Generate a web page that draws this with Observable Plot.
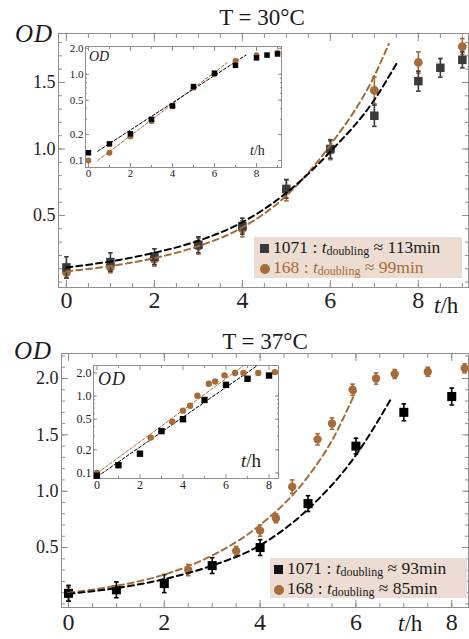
<!DOCTYPE html>
<html><head><meta charset="utf-8">
<script src="https://cdn.jsdelivr.net/npm/d3@7"></script>
<script src="https://cdn.jsdelivr.net/npm/@observablehq/plot@0.6"></script>
<style>
body{margin:0;background:#fff;}
#wrap{position:relative;width:469px;height:639px;overflow:hidden;font-family:"Liberation Serif",serif;color:#1a1a1a;}
#wrap svg, #wrap svg text{font-family:"Liberation Serif",serif;}
.abs{position:absolute;white-space:nowrap;line-height:1;}
.title{font-size:23px;transform:translateX(-50%);}
.od{font-style:italic;font-size:25px;letter-spacing:1px;}
.th{font-size:23px;}
.legend{background:#ecdcd1;font-size:17.5px;box-sizing:border-box;padding-left:6px;}
.legend .row{height:20px;line-height:20px;}
.sub{font-size:12px;position:relative;top:2px;}
.sq{display:inline-block;width:9px;height:9px;background:#3a3a3a;margin-right:4px;vertical-align:0px;}
.ci{display:inline-block;width:10px;height:10px;border-radius:50%;background:#a56c3a;margin-right:3px;vertical-align:-1px;}
</style></head>
<body>
<div id="wrap">
  <div id="p1" class="abs" style="left:0;top:0"></div>
  <div id="p2" class="abs" style="left:0;top:315px"></div>
  <div id="i1" class="abs" style="left:62px;top:38px"></div>
  <div id="i2" class="abs" style="left:68px;top:358px"></div>

  <div class="abs title" style="left:262px;top:6px">T = 30°C</div>
  <div class="abs title" style="left:265px;top:330px">T = 37°C</div>
  <div class="abs od" style="left:15px;top:21px">OD</div>
  <div class="abs od" style="left:14px;top:338px">OD</div>
  <div class="abs th" style="left:434px;top:294px"><i>t</i>/h</div>
  <div class="abs th" style="left:398px;top:612px"><i>t</i>/h</div>

  <div class="abs" style="left:89px;top:50px;font-size:14px;font-style:italic">OD</div>
  <div class="abs" style="left:250px;top:144px;font-size:14px"><i>t</i>/h</div>
  <div class="abs" style="left:98px;top:370px;font-size:18px;font-style:italic;letter-spacing:1px">OD</div>
  <div class="abs" style="left:241px;top:451px;font-size:19px"><i>t</i>/h</div>

  <div class="abs legend" style="left:254px;top:237px;width:208px;height:41px;padding-top:0px">
    <div class="row" style="color:#1a1a1a"><span class="sq"></span>1071 : <i>t</i><span class="sub">doubling</span> ≈ 113min</div>
    <div class="row" style="color:#a56c3a"><span class="ci"></span>168 : <i>t</i><span class="sub">doubling</span> ≈ 99min</div>
  </div>
  <div class="abs legend" style="left:270px;top:558px;width:197px;height:40px;padding-top:0px;padding-left:4px">
    <div class="row" style="color:#1a1a1a"><span class="sq" style="background:#111"></span>1071 : <i>t</i><span class="sub">doubling</span> ≈ 93min</div>
    <div class="row" style="color:#1a1a1a"><span class="ci"></span>168 : <i>t</i><span class="sub">doubling</span> ≈ 85min</div>
  </div>
</div>
<script>
// ---------- data: T = 30°C ----------
const tTopBlack   = [0, 1, 2, 3, 4, 5, 6, 7, 8, 8.5, 9];
const odTopBlack  = [0.11, 0.15, 0.19, 0.28, 0.42, 0.70, 1.00, 1.25, 1.51, 1.61, 1.67];
const errTopBlack = [0.08, 0.07, 0.06, 0.06, 0.06, 0.07, 0.07, 0.08, 0.075, 0.07, 0.06];
const tTopBrown   = [0, 1, 2, 3, 4, 5, 6, 7, 8, 9];
const odTopBrown  = [0.07, 0.11, 0.17, 0.27, 0.40, 0.69, 0.99, 1.44, 1.65, 1.77];
const errTopBrown = [0.04, 0.04, 0.05, 0.06, 0.06, 0.08, 0.07, 0.10, 0.08, 0.06];
const tFitTopBlack  = [0, 1, 2, 3, 4, 5, 6, 7, 7.5];
const odFitTopBlack = [0.11, 0.155, 0.22, 0.31, 0.45, 0.67, 0.98, 1.37, 1.64];
const tFitTopBrown  = [0, 1, 2, 3, 4, 5, 6, 7, 7.33];
const odFitTopBrown = [0.08, 0.12, 0.18, 0.27, 0.41, 0.65, 1.03, 1.55, 1.79];
// inset (log scale)
const odInsetTopBlack = [0.123, 0.156, 0.204, 0.30, 0.43, 0.72, 1.03, 1.27, 1.55, 1.67, 1.72];
const odInsetTopBrown = [0.10, 0.123, 0.19, 0.286, 0.424, 0.70, 1.0, 1.44, 1.67, 1.78];
const tLineTopBlack  = [0.44, 7.5];
const odLineTopBlack = [0.128, 1.67];
const tLineTopBrown  = [0.44, 6.6];
const odLineTopBrown = [0.10, 1.36];

// ---------- data: T = 37°C ----------
const tBotBlack   = [0, 1, 2, 3, 4, 5, 6, 7, 8];
const odBotBlack  = [0.094, 0.125, 0.18, 0.34, 0.50, 0.89, 1.40, 1.70, 1.84];
const errBotBlack = [0.07, 0.07, 0.08, 0.07, 0.07, 0.07, 0.07, 0.075, 0.075];
const tBotBrown   = [0, 2.5, 3.5, 4, 4.33, 4.67, 5.2, 5.5, 5.93, 6.42, 6.81, 7.5, 8.27];
const odBotBrown  = [0.09, 0.30, 0.47, 0.65, 0.76, 1.04, 1.46, 1.60, 1.90, 2.00, 2.04, 2.06, 2.09];
const errBotBrown = [0.06, 0.05, 0.04, 0.05, 0.04, 0.06, 0.05, 0.05, 0.05, 0.05, 0.04, 0.04, 0.04];
const tFitBotBlack  = [0, 1, 2, 3, 4, 5, 6, 6.72];
const odFitBotBlack = [0.09, 0.14, 0.22, 0.34, 0.52, 0.84, 1.32, 1.81];
const tFitBotBrown  = [0, 1, 2, 3, 4, 5, 5.5, 6];
const odFitBotBrown = [0.10, 0.16, 0.26, 0.43, 0.70, 1.13, 1.45, 1.89];
const odInsetBotBlack = [0.092, 0.126, 0.178, 0.35, 0.50, 0.89, 1.40, 1.68, 1.85];
const odInsetBotBrown = [0.10, 0.288, 0.465, 0.646, 0.75, 1.01, 1.45, 1.55, 1.86, 2.0, 2.0, 2.0, 2.05];
const tLineBotBlack  = [0.03, 7.46];
const odLineBotBlack = [0.09, 2.5];
const tLineBotBrown  = [0.03, 6.83];
const odLineBotBrown = [0.10, 2.5];

// ---------- tick labels ----------
const xTickLabels = [0, 2, 4, 6, 8];
const yTickLabelsTop = [0.5, 1.0, 1.5];
const yTickLabelsBot = [0.5, 1.0, 1.5, 2.0];
const insetYTickLabels = [0.1, 0.2, 0.5, 1, 2];

const BROWN = "#a56c3a";
const GRAY = "#8e8e8e";
const FONT = '"Liberation Serif", serif';

const rows = (t, v, e) => t.map((x, i) => ({t: x, v: v[i], e: e ? e[i] : 0}));
const cap = {draw(ctx, size) { const w = Math.sqrt(size / Math.PI); ctx.moveTo(-w, 0); ctx.lineTo(w, 0); }};

function frameTicks(xMajor, xMinor, yMajor, yMinor, big, small) {
  const m = [];
  for (const a of ["bottom", "top"]) {
    m.push(Plot.axisX({anchor: a, ticks: xMajor, tickSize: -big, fill: "none", stroke: GRAY, label: null}));
    m.push(Plot.axisX({anchor: a, ticks: xMinor, tickSize: -small, fill: "none", stroke: GRAY, label: null}));
  }
  for (const a of ["left", "right"]) {
    m.push(Plot.axisY({anchor: a, ticks: yMajor, tickSize: -big, fill: "none", stroke: GRAY, label: null}));
    m.push(Plot.axisY({anchor: a, ticks: yMinor, tickSize: -small, fill: "none", stroke: GRAY, label: null}));
  }
  return m;
}

function mainPanel(o) {
  const black = rows(o.tB, o.vB, o.eB), brown = rows(o.tR, o.vR, o.eR);
  return Plot.plot({
    width: 469, height: o.height,
    marginTop: o.mt, marginBottom: o.mb, marginLeft: o.ml, marginRight: 1,
    style: {fontFamily: FONT, background: "transparent", color: "#222", overflow: "visible"},
    x: {domain: o.xd, label: null},
    y: {domain: o.yd, label: null},
    marks: [
      ...frameTicks(xTickLabels, o.xMinor, o.yLabels, o.yMinor, 7, 4),
      Plot.axisX({anchor: "bottom", ticks: xTickLabels, tickSize: 0, tickPadding: o.xpad, fontSize: 24, fontFamily: FONT, label: null}),
      Plot.axisY({anchor: "left", ticks: o.yLabels, tickSize: 0, tickPadding: 3, fontSize: 18, fontFamily: FONT, tickFormat: d3.format(".1f"), label: null}),
      Plot.frame({stroke: GRAY}),
      Plot.ruleX(brown, {x: "t", y1: d => d.v - d.e, y2: d => d.v + d.e, stroke: BROWN, strokeWidth: 1.6}),
      Plot.dot(brown, {x: "t", y: d => d.v - d.e, symbol: cap, r: 2.3, stroke: BROWN, strokeWidth: 1.6}),
      Plot.dot(brown, {x: "t", y: d => d.v + d.e, symbol: cap, r: 2.3, stroke: BROWN, strokeWidth: 1.6}),
      Plot.dot(brown, {x: "t", y: "v", symbol: "circle", r: o.rc, fill: BROWN, stroke: "none"}),
      Plot.ruleX(black, {x: "t", y1: d => d.v - d.e, y2: d => d.v + d.e, stroke: o.blackColor, strokeWidth: 1.6}),
      Plot.dot(black, {x: "t", y: d => d.v - d.e, symbol: cap, r: 2.3, stroke: o.blackColor, strokeWidth: 1.6}),
      Plot.dot(black, {x: "t", y: d => d.v + d.e, symbol: cap, r: 2.3, stroke: o.blackColor, strokeWidth: 1.6}),
      Plot.dot(black, {x: "t", y: "v", symbol: "square", r: o.rs, fill: o.blackColor, stroke: "none"}),
      Plot.line(rows(o.tFR, o.vFR), {x: "t", y: "v", stroke: BROWN, strokeWidth: 2, strokeDasharray: "6,4", curve: "monotone-x"}),
      Plot.line(rows(o.tFB, o.vFB), {x: "t", y: "v", stroke: "#000", strokeWidth: 2, strokeDasharray: "6,4", curve: "monotone-x"})
    ]
  });
}

function insetPanel(o) {
  const yMinor = [0.1,0.2,0.3,0.4,0.5,0.6,0.7,0.8,0.9,1,2].filter(d => d >= o.yd[0] && d <= o.yd[1]);
  return Plot.plot({
    width: o.width, height: o.height,
    marginTop: o.mt, marginBottom: o.mb, marginLeft: o.ml, marginRight: 3,
    style: {fontFamily: FONT, background: "transparent", color: "#222", overflow: "visible"},
    x: {domain: o.xd, label: null},
    y: {type: "log", domain: o.yd, label: null},
    marks: [
      Plot.frame({fill: "white", stroke: "none"}),
      ...frameTicks(xTickLabels, o.xMinor, insetYTickLabels, yMinor, 4, 2),
      Plot.axisX({anchor: "bottom", ticks: xTickLabels, tickSize: 0, tickPadding: 2, fontSize: o.fs, fontFamily: FONT, label: null}),
      Plot.axisY({anchor: "left", ticks: insetYTickLabels, tickSize: 0, tickPadding: 2, fontSize: o.fs, fontFamily: FONT, tickFormat: d3.format(".1f"), label: null}),
      Plot.frame({stroke: GRAY}),
      Plot.line(rows(o.tLR, o.vLR), {x: "t", y: "v", stroke: BROWN, strokeWidth: 1, strokeDasharray: "3,2"}),
      Plot.line(rows(o.tLB, o.vLB), {x: "t", y: "v", stroke: "#000", strokeWidth: 1, strokeDasharray: "3,2"}),
      Plot.dot(rows(o.tR, o.vR), {x: "t", y: "v", symbol: "circle", r: o.rc, fill: BROWN, stroke: "none"}),
      Plot.dot(rows(o.tB, o.vB), {x: "t", y: "v", symbol: "square", r: o.rs, fill: "#000", stroke: "none"})
    ]
  });
}

document.getElementById("p1").append(mainPanel({
  height: 315, mt: 33, mb: 28, ml: 58, xpad: 3,
  xd: [-0.18, 9.14], yd: [-0.041, 1.868],
  xMinor: d3.range(0, 9.01, 0.5), yLabels: yTickLabelsTop, yMinor: d3.range(0, 1.86, 0.1),
  tB: tTopBlack, vB: odTopBlack, eB: errTopBlack, tR: tTopBrown, vR: odTopBrown, eR: errTopBrown,
  tFB: tFitTopBlack, vFB: odFitTopBlack, tFR: tFitTopBrown, vFR: odFitTopBrown,
  blackColor: "#3a3a3a", rs: 4.8, rc: 4.4
}));
document.getElementById("p2").append(mainPanel({
  height: 324, mt: 38, mb: 32, ml: 61, xpad: 5,
  xd: [-0.146, 8.35], yd: [-0.032, 2.222],
  xMinor: d3.range(0, 8.31, 0.5), yLabels: yTickLabelsBot, yMinor: d3.range(0, 2.21, 0.1),
  tB: tBotBlack, vB: odBotBlack, eB: errBotBlack, tR: tBotBrown, vR: odBotBrown, eR: errBotBrown,
  tFB: tFitBotBlack, vFB: odFitBotBlack, tFR: tFitBotBrown, vFR: odFitBotBrown,
  blackColor: "#000", rs: 5.1, rc: 4.2
}));
document.getElementById("i1").append(insetPanel({
  width: 222, height: 147, mt: 8, mb: 18, ml: 23, fs: 11,
  xd: [-0.14, 9.19], yd: [0.083, 2.1], xMinor: [1, 3, 5, 7, 9],
  tB: tTopBlack, vB: odInsetTopBlack, tR: tTopBrown, vR: odInsetTopBrown,
  tLB: tLineTopBlack, vLB: odLineTopBlack, tLR: tLineTopBrown, vLR: odLineTopBrown,
  rs: 3.1, rc: 2.9
}));
document.getElementById("i2").append(insetPanel({
  width: 213, height: 140, mt: 7, mb: 20, ml: 25, fs: 12,
  xd: [-0.16, 8.44], yd: [0.0846, 2.5], xMinor: [1, 3, 5, 7],
  tB: tBotBlack, vB: odInsetBotBlack, tR: tBotBrown, vR: odInsetBotBrown,
  tLB: tLineBotBlack, vLB: odLineBotBlack, tLR: tLineBotBrown, vLR: odLineBotBrown,
  rs: 3.6, rc: 3.2
}));
</script>
</body></html>
